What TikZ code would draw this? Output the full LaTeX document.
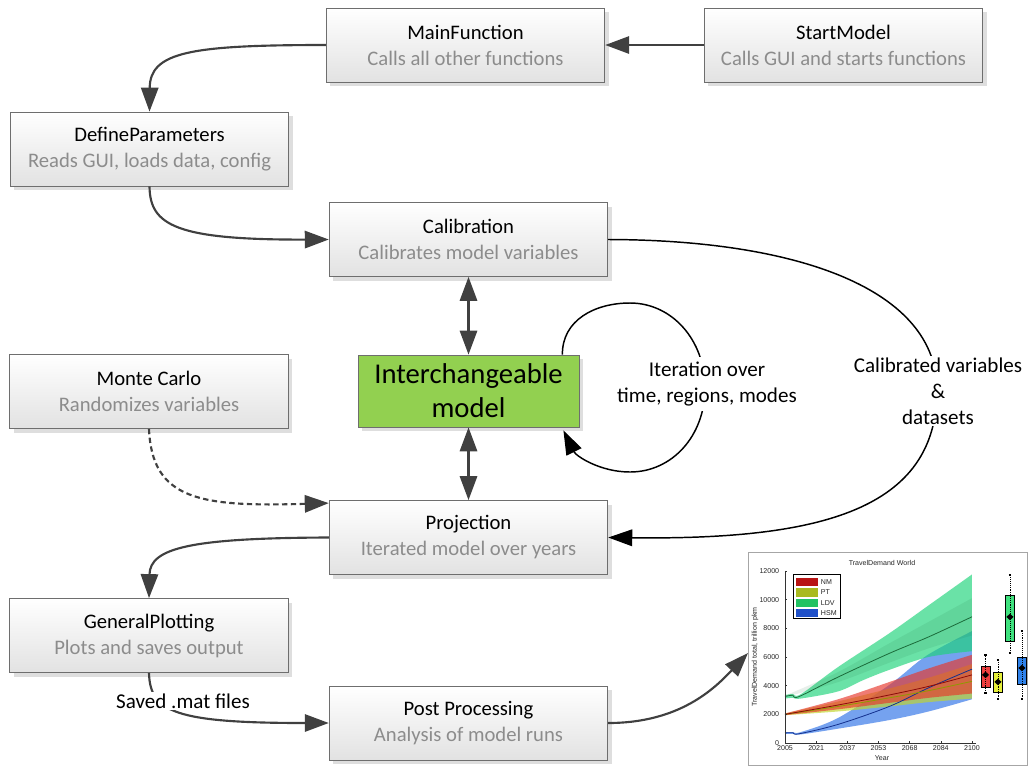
\documentclass[tikz,border=0pt]{standalone}
\usepackage{fontspec}
\setmainfont{Carlito}
\newfontfamily\chartfont{Liberation Sans}
\usetikzlibrary{arrows.meta,shadows,calc,shapes.geometric}

\definecolor{linegrey}{HTML}{404040}
\definecolor{subgrey}{HTML}{8C8C8C}
\definecolor{boxborder}{HTML}{6E6E6E}
\definecolor{boxbottom}{HTML}{E2E2E2}
\definecolor{modelgreen}{HTML}{92D050}
% plot series colours
\definecolor{nmband}{HTML}{E8372C}
\definecolor{ptband}{HTML}{C2D62A}
\definecolor{ldvband}{HTML}{1ED47A}
\definecolor{hsmband}{HTML}{2F72E8}
\definecolor{nmline}{HTML}{8B0A0A}
\definecolor{ptline}{HTML}{8E9A00}
\definecolor{ldvline}{HTML}{1B6B3A}
\definecolor{hsmline}{HTML}{14318F}
\definecolor{nmbox}{HTML}{EE3F3F}
\definecolor{ptbox}{HTML}{E6F03A}
\definecolor{ldvbox}{HTML}{3FE27E}
\definecolor{hsmbox}{HTML}{2F82EA}
\definecolor{nmpatch}{HTML}{B81414}
\definecolor{ptpatch}{HTML}{A9BA1E}
\definecolor{ldvpatch}{HTML}{22C263}
\definecolor{hsmpatch}{HTML}{1F50C8}

\begin{document}
\begin{tikzpicture}[x=0.75pt, y=-0.75pt,
  func/.style={rectangle, draw=boxborder, line width=0.6pt,
    top color=white, bottom color=boxbottom,
    minimum width=209pt, minimum height=55.5pt, inner sep=2pt,
    align=center, font=\fontsize{15.5}{19.5}\selectfont,
    drop shadow={shadow xshift=3pt, shadow yshift=-3pt, fill=black!13, opacity=1}},
  model/.style={rectangle, draw=boxborder, line width=0.6pt, fill=modelgreen,
    minimum width=165.75pt, minimum height=54pt, inner sep=2pt,
    align=center, font=\fontsize{21.5}{25.5}\selectfont,
    drop shadow={shadow xshift=3pt, shadow yshift=-3pt, fill=black!13, opacity=1}},
  flow/.style={draw=linegrey, line width=1.6pt, -{Triangle[length=18pt,width=13pt]}},
  biflow/.style={draw=linegrey, line width=1.6pt,
    {Triangle[length=18pt,width=13pt]}-{Triangle[length=18pt,width=13pt]}},
  dashflow/.style={flow, dash pattern=on 4pt off 2.6pt},
  loopflow/.style={draw=black, line width=1.1pt, -{Triangle[length=18pt,width=12.5pt]}},
  note/.style={fill=white, align=center, inner sep=1.5pt,
    font=\fontsize{15.8}{19.5}\selectfont},
  tiny/.style={font=\chartfont\fontsize{5.3}{6}\selectfont, inner sep=0.5pt, text=black!85}]

\useasboundingbox (0,0) rectangle (1028,765);

% ---------- function boxes ----------
\node[func] (main)  at (465.5,45)  {MainFunction\\\textcolor{subgrey}{Calls all other functions}};
\node[func] (start) at (843.5,45)  {StartModel\\\textcolor{subgrey}{Calls GUI and starts functions}};
\node[func] (def)   at (149.5,149) {DefineParameters\\\textcolor{subgrey}{Reads GUI, loads data, config}};
\node[func] (calib) at (468.5,239.5) {Calibration\\\textcolor{subgrey}{Calibrates model variables}};
\node[model] (inter) at (468.5,391) {Interchangeable\\model};
\node[func] (mc)    at (149,391.5) {Monte Carlo\\\textcolor{subgrey}{Randomizes variables}};
\node[func] (proj)  at (468.5,537.5) {Projection\\\textcolor{subgrey}{Iterated model over years}};
\node[func] (gen)   at (149,635.5) {GeneralPlotting\\\textcolor{subgrey}{Plots and saves output}};
\node[func] (post)  at (468.5,723) {Post Processing\\\textcolor{subgrey}{Analysis of model runs}};

% ---------- result chart ----------
\node[draw=black!35, fill=white, line width=0.5pt, anchor=north west, inner sep=0pt,
      minimum width=209.4pt, minimum height=159.4pt] (chart) at (748,552) {};
\coordinate (chartin) at ($(chart.north west)+(0,101)$);

\begin{scope}[shift={(785,743)}, x=1.476pt, y=0.01075pt]
  % uncertainty bands
  \fill[hsmband, opacity=0.66] plot[smooth, tension=0.55] coordinates
    {(0,760) (4,760) (8,760) (27,1750) (53,4050) (72,6100) (95,7800)}
    -- plot[smooth, tension=0.55] coordinates
    {(95,3050) (73,2200) (53,1600) (27,1000) (8,600) (4,640) (0,640)} -- cycle;
  \fill[ldvband, opacity=0.66] plot[smooth, tension=0.55] coordinates
    {(0,3350) (4,3420) (8,3400) (27,5300) (53,7650) (73,9600) (95,11750)}
    -- plot[smooth, tension=0.55] coordinates
    {(95,6400) (73,6000) (53,5100) (40,4400) (27,3600) (8,3100) (4,3150) (0,3100)} -- cycle;
  \fill[ldvline, opacity=0.1] plot[smooth, tension=0.55] coordinates
    {(0,3300) (27,4950) (53,6950) (73,8450) (95,10100)}
    -- plot[smooth, tension=0.55] coordinates
    {(95,7500) (73,6600) (53,5600) (27,4250) (0,3200)} -- cycle;
  \fill[ptband, opacity=0.66] plot[smooth, tension=0.55] coordinates
    {(0,2060) (27,2900) (53,3800) (73,4550) (95,5500)}
    -- plot[smooth, tension=0.55] coordinates
    {(95,3100) (73,2850) (53,2550) (27,2200) (0,1940)} -- cycle;
  \fill[nmband, opacity=0.66] plot[smooth, tension=0.55] coordinates
    {(0,2060) (27,3050) (53,4250) (73,5200) (95,6150)}
    -- plot[smooth, tension=0.55] coordinates
    {(95,3450) (73,3150) (53,2800) (27,2350) (0,1940)} -- cycle;
  % median paths
  \draw[hsmline, line width=0.6pt] plot[smooth, tension=0.55] coordinates
    {(0,700) (4,720) (7,640) (27,1300) (53,2550) (73,3850) (95,5150)};
  \draw[ldvline, line width=0.6pt] plot[smooth, tension=0.55] coordinates
    {(0,3250) (4,3330) (7,3230) (27,4600) (53,6250) (73,7400) (95,8800)};
  \draw[ptline, line width=0.6pt] plot[smooth, tension=0.55] coordinates
    {(0,2000) (27,2550) (53,3150) (73,3650) (95,4300)};
  \draw[nmline, line width=0.6pt] plot[smooth, tension=0.55] coordinates
    {(0,2000) (27,2650) (53,3350) (73,3950) (95,4750)};
  % axes and ticks
  \draw[black!80, line width=0.45pt] (0,12000) -- (0,0) -- (97,0);
  \foreach \v in {0,2000,...,12000} {
    \draw[black!80, line width=0.45pt] (0,\v) -- (1.2,\v);
    \node[tiny, anchor=east] (yt\v) at (-2.5,\v) {\v};
  }
  \foreach \yr [count=\k from 0] in {2005,2021,2037,2053,2068,2084,2100} {
    \draw[black!80, line width=0.45pt] ({\k*95/6},0) -- ({\k*95/6},130);
    \node[tiny, anchor=north] (xt\yr) at ({\k*95/6},-80) {\yr};
  }
  % end-year distributions
  \foreach \x/\lo/\qa/\qb/\hi/\mu/\col/\nm in
    {101.9/3490/3900/5370/6140/4750/nmbox/bnm,
     108.2/3070/3560/4950/5790/4260/ptbox/bpt,
     114.3/6280/7120/10330/11720/8790/ldvbox/bldv,
     120.4/3070/4120/6000/7820/5230/hsmbox/bhsm} {
    \draw[black, line width=0.45pt, densely dotted] (\x,\lo) -- (\x,\hi);
    \filldraw[fill=\col, draw=black, line width=0.4pt] (\x-2.3,\qa) rectangle (\x+2.3,\qb);
    \draw[black, line width=0.45pt, densely dotted] (\x,\qa) -- (\x,\qb);
    \draw[black, line width=1.1pt] (\x-0.6,\lo) -- (\x+0.6,\lo) (\x-0.6,\hi) -- (\x+0.6,\hi);
    \node[diamond, fill=black, inner sep=0pt, minimum width=5.5pt, minimum height=5pt] (\nm) at (\x,\mu) {};
  }
\end{scope}

\node[tiny] (ctitle) at (882,563) {TravelDemand World};
\node[tiny] (cxlabel) at (882,758) {Year};
\node[tiny, rotate=90] (cylabel) at (755,657) {TravelDemand total, trillion pkm};

% legend
\node[draw=black, line width=0.8pt, fill=white, anchor=north west, inner sep=0pt,
      minimum width=35.25pt, minimum height=33pt] (legend) at (793,574) {};
\foreach \c/\lab/\col [count=\i] in {582/NM/nmpatch, 592.5/PT/ptpatch, 603/LDV/ldvpatch, 613/HSM/hsmpatch} {
  \fill[\col] (795.5,\c-4.3) rectangle (818,\c+4.3);
  \node[tiny, anchor=west] (leg\i) at (820,\c) {\lab};
}

% ---------- connectors ----------
\draw[flow] (start.west) -- (main.east);
\draw[flow] (main.west) .. controls (190,45) and (150,52) .. (def.north);
\draw[flow] (def.south) .. controls (150,225) and (175,240) .. (calib.west);
\draw[biflow] (calib.south) -- (inter.north);
\draw[biflow] (inter.south) -- (proj.north);

\coordinate (loopout) at ($(inter.north east)+(-17,0)$);
\coordinate (loopin)  at ($(inter.south east)+(-16,3)$);
\draw[loopflow] (loopout) .. controls (562,320) and (595,303) .. (630,303)
  .. controls (672,303) and (705,340) .. (705,388)
  .. controls (705,436) and (672,472) .. (630,472)
  .. controls (600,472) and (576,456) .. (loopin);

\draw[loopflow] (calib.east) .. controls (800,240) and (937,290) .. (937,390)
  .. controls (937,510) and (820,540) .. (proj.east);

\coordinate (mcin) at ($(proj.north west)+(0,3)$);
\draw[dashflow] (mc.south) .. controls (152,500) and (200,507) .. (mcin);

\draw[flow] (proj.west) .. controls (190,538) and (150,548) .. (gen.north);
\draw[flow] (gen.south) .. controls (150,712) and (175,723) .. (post.west);
\draw[flow] (post.east) .. controls (680,723) and (715,688) .. (chartin);

% ---------- connector labels ----------
\node[note, inner ysep=4pt] (iterlbl) at (707,384) {Iteration over\\time, regions, modes};
\node[note] (callbl) at (938,391) {Calibrated variables\\\&\\datasets};
\node[note] (savelbl) at (183,701) {Saved .mat files};

\end{tikzpicture}
\end{document}
